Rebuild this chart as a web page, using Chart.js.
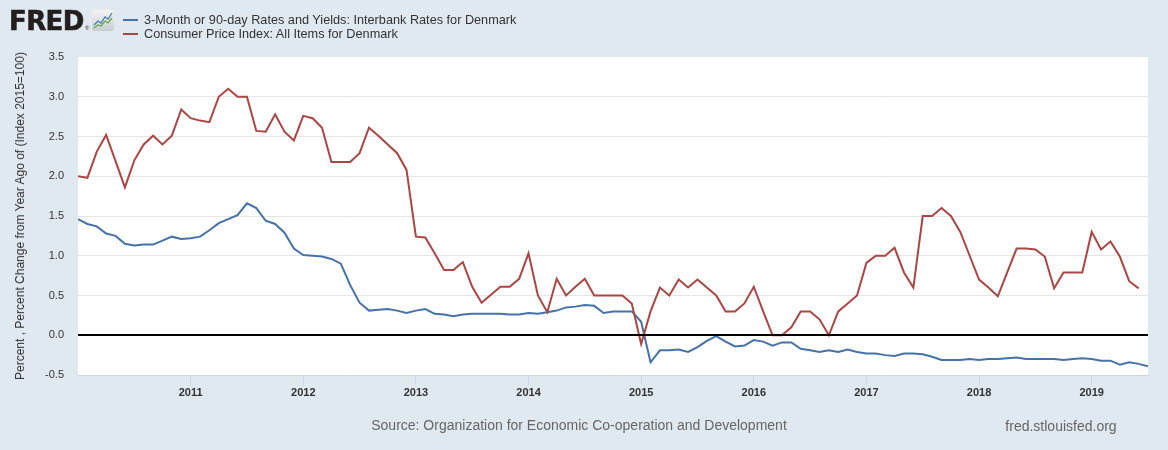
<!DOCTYPE html>
<html><head><meta charset="utf-8">
<script src="https://cdn.jsdelivr.net/npm/chart.js@4.4.1/dist/chart.umd.min.js"></script>
<style>
html,body{margin:0;padding:0;background:#e1e9f0;width:1168px;height:450px;overflow:hidden;font-family:"Liberation Sans",Arial,sans-serif;}
#wrap{position:absolute;left:0;top:0;width:1168px;height:450px;}
canvas{position:absolute;left:0;top:0;}
.abs{position:absolute;white-space:nowrap;}
</style></head><body>
<div id="wrap">
<canvas id="c" width="1168" height="450"></canvas>
<div class="abs" style="left:9px;top:6px;font:bold 26px 'DejaVu Sans';color:#231f20;letter-spacing:-0.6px;line-height:30px;-webkit-text-stroke:0.6px #231f20;">FRED</div>
<div class="abs" style="left:85px;top:25px;font:6px 'Liberation Sans';color:#231f20;">&#174;</div>
<svg class="abs" style="left:92px;top:10px" width="22" height="21" viewBox="0 0 22 21">
<defs><linearGradient id="g" x1="0" y1="0" x2="0" y2="1"><stop offset="0" stop-color="#f4f4f4"/><stop offset="1" stop-color="#c9cdd1"/></linearGradient></defs>
<rect x="0" y="0" width="22" height="21" rx="2" fill="url(#g)"/>
<polyline points="2,15 6,11 9,13 13,7 16,9 20,3" fill="none" stroke="#4a7fb5" stroke-width="1.3"/>
<polyline points="2,18 6,15 9,16 13,11 16,13 20,8" fill="none" stroke="#6aa84f" stroke-width="1.3"/>
</svg>
<div class="abs" style="left:123px;top:19px;width:15px;height:2px;background:#4572a7"></div>
<div class="abs" style="left:144px;top:12px;font:12.7px 'Liberation Sans';color:#333;line-height:16px;">3-Month or 90-day Rates and Yields: Interbank Rates for Denmark</div>
<div class="abs" style="left:123px;top:33px;width:15px;height:2px;background:#aa4643"></div>
<div class="abs" style="left:144px;top:26px;font:12.7px 'Liberation Sans';color:#333;line-height:16px;">Consumer Price Index: All Items for Denmark</div>
<div class="abs" style="left:20px;top:216px;transform:translate(-50%,-50%) rotate(-90deg);font:12px 'Liberation Sans';color:#333;line-height:14px;">Percent , Percent Change from Year Ago of (Index 2015=100)</div>
<div class="abs" style="left:579px;top:425px;transform:translate(-50%,-50%);font:14px 'Liberation Sans';color:#666;">Source: Organization for Economic Co-operation and Development</div>
<div class="abs" style="left:1061px;top:426px;transform:translate(-50%,-50%);font:14px 'Liberation Sans';color:#666;">fred.stlouisfed.org</div>
</div>
<script>
// Monthly, starting Jan 2010
const yearLabels = ['2011','2012','2013','2014','2015','2016','2017','2018','2019'];
const yTickValues = [-0.5,0,0.5,1,1.5,2,2.5,3,3.5];
const interbankRates = [
 1.46,1.40,1.37,1.28,1.25,1.15,1.13,1.14,1.14,1.19,1.24,1.21,
 1.22,1.24,1.32,1.41,1.46,1.51,1.66,1.60,1.44,1.40,1.29,1.09,
 1.01,1.00,0.99,0.96,0.90,0.63,0.41,0.31,0.32,0.33,0.31,0.28,
 0.31,0.33,0.27,0.26,0.24,0.26,0.27,0.27,0.27,0.27,0.26,0.26,
 0.28,0.27,0.29,0.31,0.35,0.36,0.38,0.37,0.28,0.30,0.30,0.30,
 0.17,-0.34,-0.19,-0.19,-0.18,-0.21,-0.15,-0.07,-0.01,-0.08,-0.14,-0.13,
 -0.06,-0.08,-0.13,-0.09,-0.09,-0.17,-0.19,-0.21,-0.19,-0.21,-0.18,-0.21,
 -0.23,-0.23,-0.25,-0.26,-0.23,-0.23,-0.24,-0.27,-0.31,-0.31,-0.31,-0.30,
 -0.31,-0.30,-0.30,-0.29,-0.28,-0.30,-0.30,-0.30,-0.30,-0.31,-0.30,-0.29,
 -0.30,-0.32,-0.32,-0.37,-0.34,-0.36,-0.39
];
const cpiChange = [
 2.00,1.98,2.31,2.52,2.19,1.86,2.20,2.40,2.51,2.40,2.51,2.84,
 2.73,2.70,2.68,3.00,3.10,3.00,3.00,2.57,2.56,2.78,2.56,2.45,
 2.76,2.73,2.61,2.18,2.18,2.18,2.29,2.61,2.51,2.40,2.29,2.08,
 1.24,1.23,1.03,0.82,0.82,0.92,0.61,0.41,0.51,0.61,0.61,0.71,
 1.03,0.50,0.29,0.71,0.50,0.61,0.71,0.50,0.50,0.50,0.50,0.40,
 -0.11,0.30,0.60,0.50,0.70,0.60,0.70,0.60,0.50,0.30,0.30,0.40,
 0.61,0.30,0.00,0.00,0.10,0.30,0.30,0.20,0.00,0.30,0.40,0.50,
 0.91,1.00,1.00,1.10,0.79,0.60,1.50,1.50,1.60,1.50,1.30,1.00,
 0.70,0.60,0.49,0.79,1.09,1.09,1.08,0.99,0.59,0.79,0.79,0.79,
 1.30,1.08,1.18,0.99,0.68,0.59
];

const bgPlugin = {
  id:'bg',
  beforeDraw(chart){
    const {ctx, chartArea:a} = chart;
    ctx.save(); ctx.fillStyle='#ffffff';
    ctx.fillRect(a.left, a.top, a.right-a.left, a.bottom-a.top);
    ctx.restore();
  },
  afterDatasetsDraw(chart){
    const {ctx, chartArea:a} = chart;
    const y = Math.round(chart.scales.y.getPixelForValue(0));
    ctx.save(); ctx.strokeStyle='#000'; ctx.lineWidth=2;
    ctx.beginPath(); ctx.moveTo(a.left, y); ctx.lineTo(a.right, y); ctx.stroke();
    ctx.restore();
  }
};

new Chart(document.getElementById('c'), {
  type:'line',
  data:{
    datasets:[
      {label:'3-Month or 90-day Rates and Yields: Interbank Rates for Denmark',
       data: interbankRates.map((v,i)=>({x:i,y:v})),
       borderColor:'#4572a7', borderWidth:2, pointRadius:0, tension:0, order:2},
      {label:'Consumer Price Index: All Items for Denmark',
       data: cpiChange.map((v,i)=>({x:i,y:v})),
       borderColor:'#aa4643', borderWidth:2, pointRadius:0, tension:0, order:1}
    ]
  },
  options:{
    responsive:false, animation:false, devicePixelRatio:1,
    layout:{padding:{top:57,right:20,left:0,bottom:0}},
    plugins:{legend:{display:false}, tooltip:{enabled:false}},
    scales:{
      x:{type:'linear', min:0, max:interbankRates.length-1,
        afterBuildTicks(s){ s.ticks = yearLabels.map((_,k)=>({value:(k+1)*12})); },
        afterFit(s){ s.height = 75; },
        ticks:{autoSkip:false, maxRotation:0, padding:1, color:'#333',
          font:{family:'Liberation Sans', size:11, weight:'bold'},
          callback:(v)=>yearLabels[v/12-1]},
        grid:{drawOnChartArea:false, drawTicks:true, tickLength:10, color:'#ccd6eb'},
        border:{display:true, color:'#ccd6eb', width:1}
      },
      y:{min:-0.5, max:3.5,
        afterBuildTicks(s){ s.ticks = yTickValues.map(v=>({value:v})); },
        afterFit(s){ s.width = 78; },
        ticks:{padding:14, color:'#333', font:{family:'Liberation Sans', size:11},
          callback:(v)=>v.toFixed(1)},
        grid:{drawTicks:false,
          color:(c)=> (c.tick && (c.tick.value===0 || c.tick.value===3.5 || c.tick.value===-0.5)) ? 'rgba(0,0,0,0)' : '#e6e6e6',
          lineWidth:1},
        border:{display:false}
      }
    }
  },
  plugins:[bgPlugin]
});
</script>
</body></html>
